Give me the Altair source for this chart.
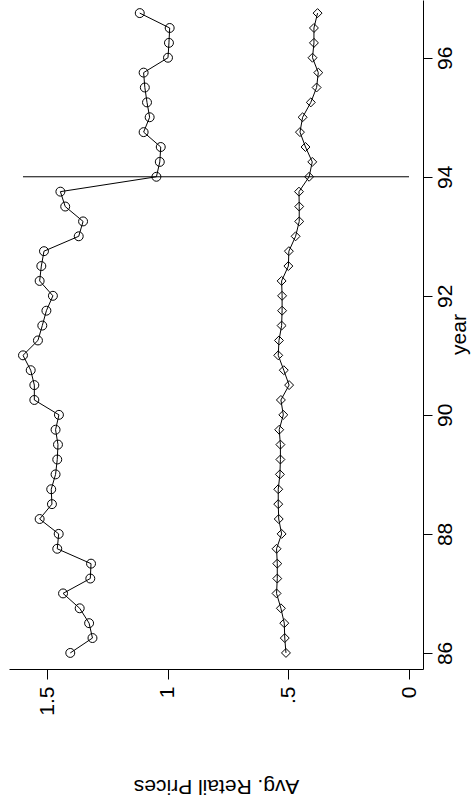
import altair as alt
import pandas as pd

years = [86.0, 86.25, 86.5, 86.75, 87.0, 87.25, 87.5, 87.75,
         88.0, 88.25, 88.5, 88.75, 89.0, 89.25, 89.5, 89.75,
         90.0, 90.25, 90.5, 90.75, 91.0, 91.25, 91.5, 91.75,
         92.0, 92.25, 92.5, 92.75, 93.0, 93.25, 93.5, 93.75,
         94.0, 94.25, 94.5, 94.75, 95.0, 95.25, 95.5, 95.75,
         96.0, 96.25, 96.5, 96.75]

price_circle = [1.404, 1.312, 1.326, 1.365, 1.434, 1.321, 1.318, 1.458,
                1.452, 1.531, 1.480, 1.483, 1.465, 1.458, 1.455, 1.465,
                1.451, 1.553, 1.553, 1.568, 1.600, 1.538, 1.520, 1.503,
                1.476, 1.531, 1.524, 1.513, 1.369, 1.351, 1.425, 1.445,
                1.047, 1.033, 1.029, 1.100, 1.075, 1.086, 1.095, 1.100,
                0.999, 0.995, 0.992, 1.116]

price_diamond = [0.510, 0.515, 0.517, 0.531, 0.549, 0.546, 0.546, 0.549,
                 0.528, 0.540, 0.542, 0.542, 0.535, 0.533, 0.533, 0.538,
                 0.521, 0.531, 0.497, 0.519, 0.542, 0.539, 0.528, 0.526,
                 0.526, 0.528, 0.500, 0.498, 0.470, 0.455, 0.455, 0.456,
                 0.414, 0.401, 0.429, 0.452, 0.441, 0.407, 0.383, 0.376,
                 0.400, 0.394, 0.394, 0.379]

price_ticks = [0, 0.5, 1, 1.5]
year_ticks = [86, 88, 90, 92, 94, 96]
cut_year = [94]
cut_lo = [0]
cut_hi = [1.6]

FONT = "Liberation Sans"

df_c = pd.DataFrame({"year": years, "price": price_circle})
df_d = pd.DataFrame({"year": years, "price": price_diamond})
df_r = pd.DataFrame({"year": cut_year, "lo": cut_lo, "hi": cut_hi})

xscale = alt.Scale(domain=[-0.058, 1.658], reverse=True, nice=False, zero=False)
yscale = alt.Scale(domain=[85.73, 96.97], nice=False, zero=False)

xaxis = alt.Axis(
    values=price_ticks,
    labelExpr="datum.value == 0 ? '0' : datum.value == 0.5 ? '.5' : datum.value == 1 ? '1' : '1.5'",
    labelAngle=270, labelAlign="right", labelBaseline="middle",
    labelFontSize=21, labelFont=FONT, labelColor="black", labelPadding=7,
    tickSize=10, tickColor="black", domainColor="black", grid=False,
    title="Avg. Retail Prices", titleAngle=180, titleFontSize=21, titleFont=FONT,
    titleFontWeight="normal", titleColor="black", titleBaseline="middle", titleY=116,
)
yaxis = alt.Axis(
    orient="right", values=year_ticks, format="d",
    labelAngle=270, labelAlign="center", labelBaseline="top",
    labelFontSize=21, labelFont=FONT, labelColor="black", labelPadding=2,
    tickSize=9, tickColor="black", domainColor="black", grid=False,
    title="year", titleAngle=270, titleFontSize=21, titleFont=FONT,
    titleFontWeight="normal", titleColor="black", titleAlign="center",
    titleBaseline="alphabetic", titleX=42, titleY=334,
)

line_c = alt.Chart(df_c).mark_line(color="black", strokeWidth=1).encode(
    x=alt.X("price:Q", scale=xscale, axis=xaxis),
    y=alt.Y("year:Q", scale=yscale, axis=yaxis),
    order="year:Q",
)
pts_c = alt.Chart(df_c).mark_point(shape="circle", filled=False, color="black",
                                   size=80, strokeWidth=1, opacity=1).encode(
    x=alt.X("price:Q", scale=xscale),
    y=alt.Y("year:Q", scale=yscale),
)
line_d = alt.Chart(df_d).mark_line(color="black", strokeWidth=1).encode(
    x=alt.X("price:Q", scale=xscale),
    y=alt.Y("year:Q", scale=yscale),
    order="year:Q",
)
pts_d = alt.Chart(df_d).mark_point(shape="diamond", filled=False, color="black",
                                   size=80, strokeWidth=1, opacity=1).encode(
    x=alt.X("price:Q", scale=xscale),
    y=alt.Y("year:Q", scale=yscale),
)
rule = alt.Chart(df_r).mark_rule(color="black", strokeWidth=1).encode(
    x=alt.X("lo:Q", scale=xscale),
    x2="hi:Q",
    y=alt.Y("year:Q", scale=yscale),
)

chart = alt.layer(rule, line_c, pts_c, line_d, pts_d).properties(
    width=414, height=669,
    padding={"left": 9, "top": 0, "right": 48, "bottom": 139},
    autosize=alt.AutoSizeParams(type="none"),
    background="white",
).configure_view(stroke=None)

chart.save("out.html", embed_options={"renderer": "svg", "actions": False})
